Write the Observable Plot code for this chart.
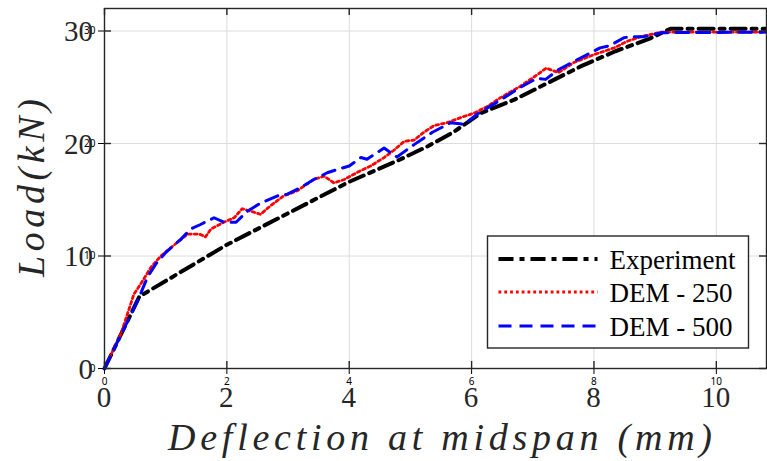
<!DOCTYPE html>
<html>
<head>
<meta charset="utf-8">
<script src="https://cdn.jsdelivr.net/npm/d3@7"></script>
<script src="https://cdn.jsdelivr.net/npm/@observablehq/plot@0.6"></script>
<style>
  html, body { margin: 0; padding: 0; background: #fff; font-family: "Liberation Serif", serif; }
  #chart svg { display: block; }
</style>
</head>
<body>
<div id="chart"></div>
<script>
// ---- data ----
const xTicks = [0, 2, 4, 6, 8, 10];
const yTicks = [0, 10, 20, 30];
const xLabel = "Deflection at midspan (mm)";
const yLabel = "Load(kN)";
const seriesNames = ["Experiment", "DEM - 250", "DEM - 500"];

const expX = [0, 0.57, 2.0, 4.0, 4.8, 5.3, 5.7, 6.15, 6.7, 7.25, 7.8, 8.35, 8.9, 9.25, 10.82];
const expY = [0, 6.4, 11.0, 16.6, 18.5, 19.8, 21.0, 22.7, 23.9, 25.4, 26.9, 28.2, 29.3, 30.2, 30.2];

const dem250X = [0, 0.27, 0.48, 0.59, 0.76, 0.92, 1.03, 1.19, 1.36, 1.55, 1.65, 1.74, 1.95, 2.12, 2.25, 2.44, 2.55, 2.72, 2.93, 3.15, 3.42, 3.59, 3.75, 3.92, 4.19, 4.35, 4.57, 4.73, 4.9, 5.06, 5.22, 5.39, 5.6, 5.82, 6.04, 6.26, 6.48, 6.8, 7.07, 7.22, 7.42, 7.67, 8.0, 8.33, 8.55, 8.77, 9.1, 10.82];
const dem250Y = [0, 3.1, 6.6, 7.5, 9.0, 10.0, 10.5, 11.2, 11.95, 11.95, 11.7, 12.4, 13.0, 13.4, 14.2, 13.9, 13.7, 14.5, 15.35, 15.8, 16.8, 17.1, 16.5, 16.8, 17.6, 18.0, 18.75, 19.4, 20.2, 20.3, 21.0, 21.6, 21.85, 22.3, 22.7, 23.3, 24.1, 25.1, 26.1, 26.7, 26.3, 27.2, 27.9, 28.5, 29.1, 29.5, 29.9, 29.9];

const dem500X = [0, 0.54, 0.7, 0.84, 1.0, 1.25, 1.41, 1.57, 1.79, 1.95, 2.15, 2.34, 2.55, 2.83, 2.99, 3.21, 3.42, 3.64, 3.81, 4.0, 4.19, 4.29, 4.57, 4.78, 5.06, 5.36, 5.66, 5.88, 6.09, 6.48, 6.8, 7.07, 7.21, 7.43, 7.57, 7.78, 7.89, 8.1, 8.26, 8.49, 8.6, 8.82, 9.1, 10.82];
const dem500Y = [0, 6.0, 8.1, 9.3, 10.3, 11.5, 12.4, 12.8, 13.4, 13.0, 13.0, 14.0, 14.7, 15.35, 15.5, 16.1, 16.8, 17.4, 17.7, 18.0, 18.75, 18.6, 19.6, 18.8, 19.9, 21.0, 21.85, 21.7, 22.6, 23.9, 25.0, 25.8, 25.7, 26.6, 27.0, 27.6, 27.9, 28.5, 28.7, 29.4, 29.5, 29.5, 29.85, 29.9];

// ---- build tables ----
const toRows = (xs, ys) => xs.map((x, i) => ({x, y: ys[i]}));
const exp = toRows(expX, expY);
const d250 = toRows(dem250X, dem250Y);
const d500 = toRows(dem500X, dem500Y);

const styles = [
  {stroke: "#000000", strokeWidth: 4, strokeDasharray: "15,6,5,6"},
  {stroke: "#ff0000", strokeWidth: 2.8, strokeDasharray: "2.8,3"},
  {stroke: "#0000ff", strokeWidth: 3, strokeDasharray: "13,8"}
];

const W = 767, H = 461;
const mL = 104, mR = 1, mT = 8, mB = 93;
const innerW = W - mL - mR, innerH = H - mT - mB;
const tickLen = 7;
const axisColor = "#262626";
const serif = "Liberation Serif";
const BASE = 27;   // drawn size; larger sizes reached by scaling
const tickFont = 29, labelFont = 38;

const chart = Plot.plot({
  width: W, height: H,
  marginLeft: mL, marginRight: mR, marginTop: mT, marginBottom: mB,
  x: {domain: [0, 10.82], ticks: xTicks, label: null},
  y: {domain: [0, 32], ticks: yTicks, label: null},
  marks: [
    Plot.gridX(xTicks, {stroke: "#dcdcdc", strokeOpacity: 1, strokeWidth: 1}),
    Plot.gridY(yTicks, {stroke: "#dcdcdc", strokeOpacity: 1, strokeWidth: 1}),
    Plot.line(exp, {x: "x", y: "y", ...styles[0]}),
    Plot.line(d250, {x: "x", y: "y", ...styles[1]}),
    Plot.line(d500, {x: "x", y: "y", ...styles[2]}),
    Plot.frame({stroke: axisColor, strokeWidth: 1.4}),
    // inward ticks on all four sides
    Plot.tickX(xTicks, {x: d => d, insetTop: innerH - tickLen, stroke: axisColor, strokeWidth: 1.4}),
    Plot.tickX(xTicks, {x: d => d, insetBottom: innerH - tickLen, stroke: axisColor, strokeWidth: 1.4}),
    Plot.tickY(yTicks, {y: d => d, insetRight: innerW - tickLen, stroke: axisColor, strokeWidth: 1.4}),
    Plot.tickY(yTicks, {y: d => d, insetLeft: innerW - tickLen, stroke: axisColor, strokeWidth: 1.4})
  ]
});

document.getElementById("chart").appendChild(chart);

const svg = d3.select(chart);
const sx = chart.scale("x"), sy = chart.scale("y");

// serif text helper: drawn at BASE size and scaled about its anchor
function addText(parent, str, {x, y, size, anchor = "middle", rotate = 0, italic = false, length = null, fill = axisColor}) {
  const s = size / BASE;
  const g = parent.append("g").attr("transform", `translate(${x},${y}) rotate(${rotate}) scale(${s})`);
  const t = g.append("text")
    .attr("x", 0).attr("y", 0)
    .attr("text-anchor", anchor)
    .attr("font-family", serif)
    .attr("font-size", BASE)
    .attr("font-style", italic ? "italic" : "normal")
    .attr("fill", fill)
    .text(str);
  if (length) t.attr("textLength", length / s).attr("lengthAdjust", "spacing");
  return t;
}

const axisG = svg.append("g");
xTicks.forEach(v => addText(axisG, String(v), {x: sx.apply(v), y: H - mB + 39, size: tickFont}));
yTicks.forEach(v => addText(axisG, String(v), {x: mL - 11, y: sy.apply(v) + 10.5, size: tickFont, anchor: "end"}));
addText(axisG, xLabel, {x: mL + innerW / 2 + 5, y: 450, size: labelFont, italic: true, length: 544});
addText(axisG, yLabel, {x: 44, y: mT + innerH / 2, size: labelFont, italic: true, rotate: -90, length: 178});

// legend box (inside the plot area, lower right)
const lg = svg.append("g").attr("transform", "translate(487.5,236)");
lg.append("rect").attr("width", 261).attr("height", 112)
  .attr("fill", "#fff").attr("stroke", axisColor).attr("stroke-width", 1.4);
const rowsY = [23, 56, 90];
seriesNames.forEach((name, i) => {
  lg.append("line").attr("x1", 11).attr("x2", 110).attr("y1", rowsY[i]).attr("y2", rowsY[i])
    .attr("stroke", styles[i].stroke).attr("stroke-width", styles[i].strokeWidth)
    .attr("stroke-dasharray", styles[i].strokeDasharray);
  lg.append("text").attr("x", 122).attr("y", rowsY[i] + 10)
    .attr("text-anchor", "start").attr("font-family", serif)
    .attr("font-size", 27).attr("fill", "#000").text(name);
});
</script>
</body>
</html>
